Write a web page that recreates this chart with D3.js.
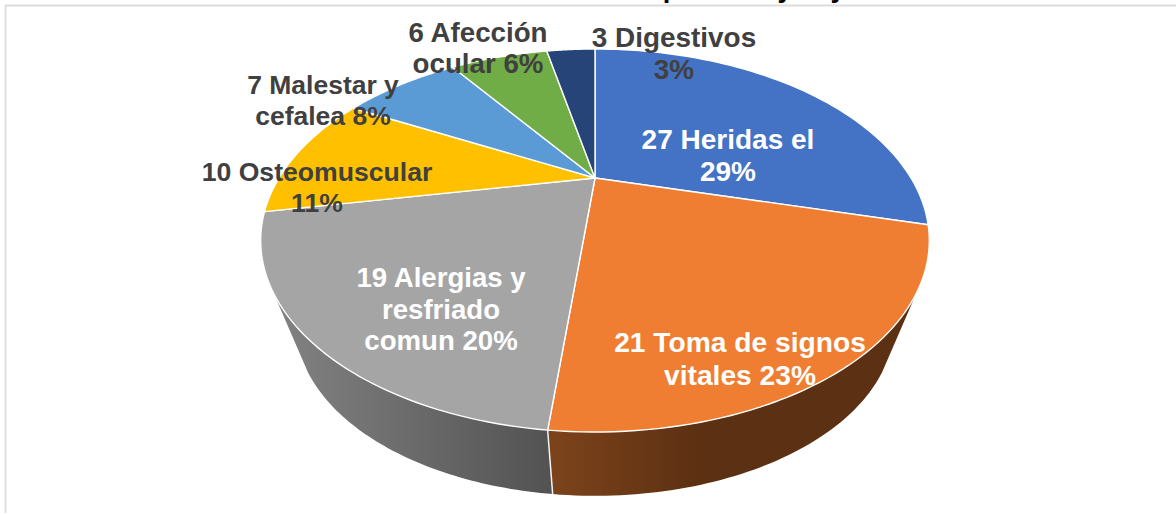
<!DOCTYPE html>
<html>
<head>
<meta charset="utf-8">
<script src="https://cdn.jsdelivr.net/npm/d3@7/dist/d3.min.js"></script>
<style>
html,body{margin:0;padding:0;background:#fff;overflow:hidden}
svg{display:block}
text{font-family:"Liberation Sans",Arial,sans-serif;font-weight:700}
</style>
</head>
<body>
<svg id="chart" width="1176" height="514"></svg>
<script>
// data
const categories = ["Heridas el","Toma de signos vitales","Alergias y resfriado comun","Osteomuscular","Malestar y cefalea","Afección ocular","Digestivos"];
const values = [27,21,19,10,7,6,3];
const sliceColors = ["#4472C4","#F07E32","#A5A5A5","#FFC000","#5B9BD5","#70AD47","#264478"];
const labelLines = [
  ["27 Heridas el","29%"],
  ["21 Toma de signos","vitales 23%"],
  ["19 Alergias y","resfriado","comun 20%"],
  ["10 Osteomuscular","11%"],
  ["7 Malestar y","cefalea 8%"],
  ["6 Afección","ocular 6%"],
  ["3 Digestivos","3%"]
];
const labelColors = ["#fff","#fff","#fff","#404040","#404040","#404040","#404040"];
// layout
const labelX = [728,740,441,317,323,478,674];
const labelY = [149,352,287,181,94,42,47];
const labelLineGap = [32,33,31.5,31,31,31,32];
const labelSize = [28,28.2,27.6,26.6,26.5,27.7,27.9];
const titleGlyphs = ["p","y","y"];
const titleGlyphX = [671,785,838];

const W=1176,H=514;
const svg=d3.select("#chart");
const defs=svg.append("defs");

// frame of the chart area
svg.append("path").attr("d",`M5.5,${H-1}V5.5H${W}`).attr("fill","none").attr("stroke","#dcdcdc").attr("stroke-width",1.8);

// perspective projection of the pie disc
const cx=595,cy=178,A=113,K=0.3264,C=316;
const depthScale=0.894,vanishY=1034;
function project(angle,r,bottom){
  const u=Math.sin(angle)*r,v=-Math.cos(angle)*r,w=1-K*v;
  const x=C*u/w,y=(A*v+cy)/w;
  return bottom?[cx+x*depthScale,vanishY+(y-vanishY)*depthScale]:[cx+x,y];
}
const pie=d3.pie().sort(null).value(d=>d)(values);
const line=d3.line();
const arcPts=(a0,a1,bottom)=>d3.range(0,61).map(i=>project(a0+(a1-a0)*i/60,1,bottom));

// side wall
const vis=Math.acos(0.555);
const visStart=Math.PI-vis,visEnd=Math.PI+vis;
const wallGrad=[
  {id:"wallOrange",i:1,x1:553,x2:700,c:["#7C431B","#5C3012"]},
  {id:"wallGray",i:2,x1:273,x2:553,c:["#838383","#525252"]}
];
wallGrad.forEach(g=>{
  const lg=defs.append("linearGradient").attr("id",g.id).attr("gradientUnits","userSpaceOnUse")
    .attr("x1",g.x1).attr("x2",g.x2).attr("y1",0).attr("y2",0);
  lg.append("stop").attr("offset",0).attr("stop-color",g.c[0]);
  lg.append("stop").attr("offset",1).attr("stop-color",g.c[1]);
  const s=pie[g.i];
  const a0=Math.max(s.startAngle,visStart),a1=Math.min(s.endAngle,visEnd);
  const pts=arcPts(a0,a1,false).concat(arcPts(a0,a1,true).reverse());
  svg.append("path").attr("d",line(pts)+"Z").attr("fill",`url(#${g.id})`);
});
// seam between walls
const seam=pie[1].endAngle;
svg.append("path").attr("d",line([project(seam,1,false),project(seam,1,true)]))
  .attr("stroke","#f2f2f2").attr("stroke-width",1.5).attr("fill","none");

// top surface
svg.append("g").selectAll("path").data(pie).join("path")
  .attr("d",d=>line([[cx,project(0,0,false)[1]]].concat(arcPts(d.startAngle,d.endAngle,false)))+"Z")
  .attr("fill",(d,i)=>sliceColors[i])
  .attr("stroke","#fff").attr("stroke-width",1.4).attr("stroke-linejoin","round");

// clipped chart title: only the descenders are visible
svg.append("text").attr("y",-3).attr("font-size",27).attr("fill","#000")
  .attr("text-anchor","middle").attr("x",titleGlyphX.join(" ")).text(titleGlyphs.join(""));

// labels
labelLines.forEach((lines,i)=>{
  const t=svg.append("text").attr("font-size",labelSize[i]).attr("fill",labelColors[i]).attr("text-anchor","middle");
  lines.forEach((l,j)=>t.append("tspan").attr("x",labelX[i]).attr("y",labelY[i]+j*labelLineGap[i]).text(l));
});
</script>
</body>
</html>
